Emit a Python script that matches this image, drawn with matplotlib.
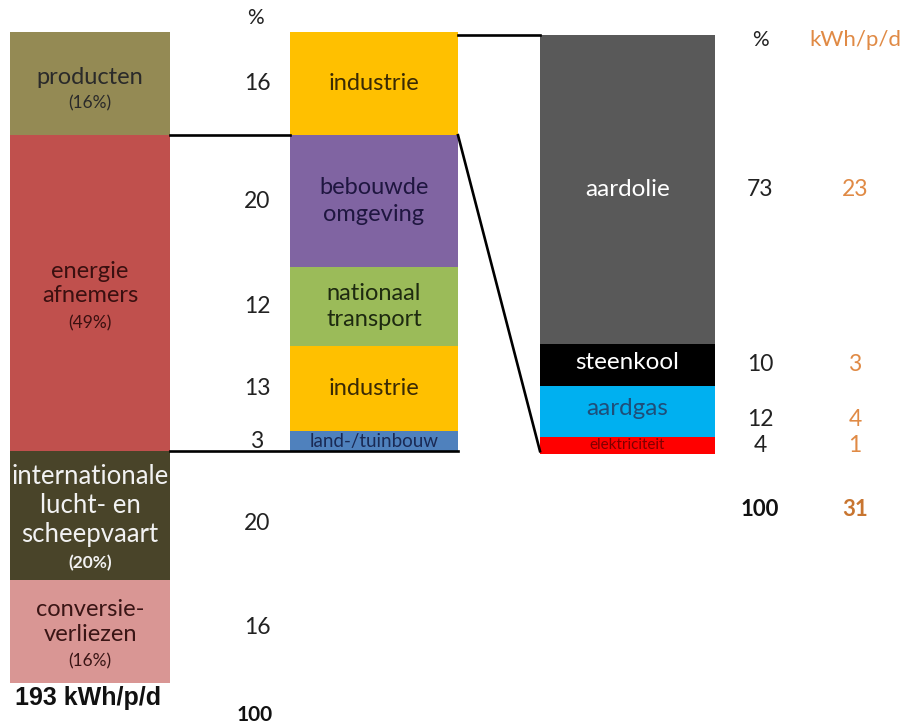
import matplotlib.pyplot as plt
import numpy as np

plt.rcParams['font.family'] = ['Lato', 'DejaVu Sans']

# linker kolom: totaal verbruik 193 kWh/p/d
links_namen = ['producten', 'energie\nafnemers', 'internationale\nlucht- en\nscheepvaart', 'conversie-\nverliezen']
links_pct = [16, 49, 20, 16]
links_kleuren = ['#948A54', '#C0504D', '#494429', '#D99694']
links_tekst = ['#2a2a2a', '#3a1010', '#F2F2F2', '#3a1515']
totaal_links = '193 kWh/p/d'

# middelste kolom: uitsplitsing producten + energie afnemers
midden_namen = ['industrie', 'bebouwde\nomgeving', 'nationaal\ntransport', 'industrie', 'land-/tuinbouw']
midden_pct = [16, 20, 12, 13, 3]
midden_kleuren = ['#FFC000', '#8064A2', '#9BBB59', '#FFC000', '#4F81BD']
midden_tekst = ['#3a2a05', '#1f1640', '#1e2a10', '#3a2a05', '#1a2a55']

# percentagekolom naast de middelste staaf
kolom_pct = [16, 20, 12, 13, 3, 20, 16]
kolom_totaal = 100

# rechter kolom: energiedragers industrie
rechts_namen = ['aardolie', 'steenkool', 'aardgas', 'elektriciteit']
rechts_pct = [73, 10, 12, 4]
rechts_kwh = [23, 3, 4, 1]
rechts_kleuren = ['#595959', '#000000', '#00B0F0', '#FF0000']
rechts_tekst = ['#FFFFFF', '#FFFFFF', '#1F4E79', '#7F0000']
rechts_totaal_pct = 100
rechts_totaal_kwh = 31

oranje = '#E08A45'

fig = plt.figure(figsize=(9.09, 7.26), dpi=100)
ax = fig.add_axes([0, 0, 1, 1])
ax.set_xlim(0, 909)
ax.set_ylim(107.6, -4.96)
ax.axis('off')

# staafposities (x in beeldpunten)
xl, wl = 90, 160
xm, wm = 374, 168
xr, wr = 627.5, 175

# linker staaf
lb = np.concatenate([[0], np.cumsum(links_pct)[:-1]])
ax.bar(xl, links_pct, bottom=lb, width=wl, color=links_kleuren)

# middelste staaf: onderste delen geschaald op energie afnemers
schaal_m = links_pct[1] / sum(midden_pct[1:])
mh = np.array([midden_pct[0]] + [v * schaal_m for v in midden_pct[1:]])
mb = np.concatenate([[0], np.cumsum(mh)[:-1]])
ax.bar(xm, mh, bottom=mb, width=wm, color=midden_kleuren)

# rechter staaf: geschaald op hoogte producten + energie afnemers
schaal_r = (links_pct[0] + links_pct[1]) / sum(rechts_pct)
rh = np.array(rechts_pct) * schaal_r
rb = np.concatenate([[0], np.cumsum(rh)[:-1]]) + 0.4
ax.bar(xr, rh, bottom=rb, width=wr, color=rechts_kleuren)

# verbindingslijnen
g1 = links_pct[0]
g2 = links_pct[0] + links_pct[1]
lw = 1.9
ax.plot([xl + wl / 2, xm - wm / 2], [g1, g1], color='black', lw=lw)
ax.plot([xl + wl / 2, xm + wm / 2], [g2, g2], color='black', lw=lw)
ax.plot([xm + wm / 2, xr - wr / 2], [rb[0], rb[0]], color='black', lw=lw)
ax.plot([xm + wm / 2, xr - wr / 2], [mh[0], g2], color='black', lw=lw)

# labels linker staaf
for i, naam in enumerate(links_namen):
    c = lb[i] + links_pct[i] / 2
    n = naam.count('\n') + 1
    fs = 18.5 if i == 2 else 17
    ls = 1.2
    hn = n * fs * ls
    hp = 12.5 * 1.3
    blok = hn + hp
    dy = -4 if i == 0 else -1
    ax.annotate(naam, (xl, c), xytext=(0, dy + blok / 2 - hn / 2), textcoords='offset points',
                ha='center', va='center', fontsize=fs, color=links_tekst[i], linespacing=ls)
    ax.annotate('(%d%%)' % links_pct[i], (xl, c), xytext=(0, dy - (blok / 2 - hp / 2)),
                textcoords='offset points', ha='center', va='center', fontsize=12.5,
                color=links_tekst[i], fontweight='bold' if i == 2 else 'normal')
ax.text(xl - 2, 103.3, totaal_links, ha='center', va='center', fontsize=18,
        fontweight='bold', family='Liberation Sans', color='#111111')

# labels middelste staaf
for i, naam in enumerate(midden_namen):
    c = mb[i] + mh[i] / 2
    fs = 13.5 if i == 4 else 17
    ax.text(xm, c, naam, ha='center', va='center', fontsize=fs, color=midden_tekst[i],
            linespacing=1.3)

# percentagekolom
kol_y = list(mb + mh / 2) + [lb[2] + links_pct[2] / 2 + 1.2, lb[3] + links_pct[3] / 2 - 0.7]
ax.text(255, -2.2, '%', ha='center', va='center', fontsize=15, color='#222222')
for v, y in zip(kolom_pct, kol_y):
    ax.text(257, y, str(v), ha='center', va='center', fontsize=16.5, color='#222222')
ax.text(255, 105.9, str(kolom_totaal), ha='center', va='center', fontsize=15,
        fontweight='bold', color='#111111')

# labels rechter staaf
for i, naam in enumerate(rechts_namen):
    c = rb[i] + rh[i] / 2
    fs = 11 if i == 3 else 17.5
    ax.text(xr, c - (0.4 if i in (1, 2) else 0), naam, ha='center', va='center',
            fontsize=fs, color=rechts_tekst[i])

# kolommen % en kWh/p/d rechts
ax.text(760, 1.2, '%', ha='center', va='center', fontsize=15, color='#222222')
ax.text(855, 1.2, 'kWh/p/d', ha='center', va='center', fontsize=16, color=oranje)
for i in range(len(rechts_pct)):
    c = rb[i] + rh[i] / 2 + (1.2 if i == 2 else 0)
    ax.text(760, c, str(rechts_pct[i]), ha='center', va='center', fontsize=16.5, color='#222222')
    ax.text(855, c, str(rechts_kwh[i]), ha='center', va='center', fontsize=16.5, color=oranje)
ax.text(760, 74.1, str(rechts_totaal_pct), ha='center', va='center', fontsize=16,
        fontweight='bold', color='#111111')
ax.text(855, 74.1, str(rechts_totaal_kwh), ha='center', va='center', fontsize=16,
        fontweight='bold', color='#C87530')

fig.savefig('out.png', dpi=100)
